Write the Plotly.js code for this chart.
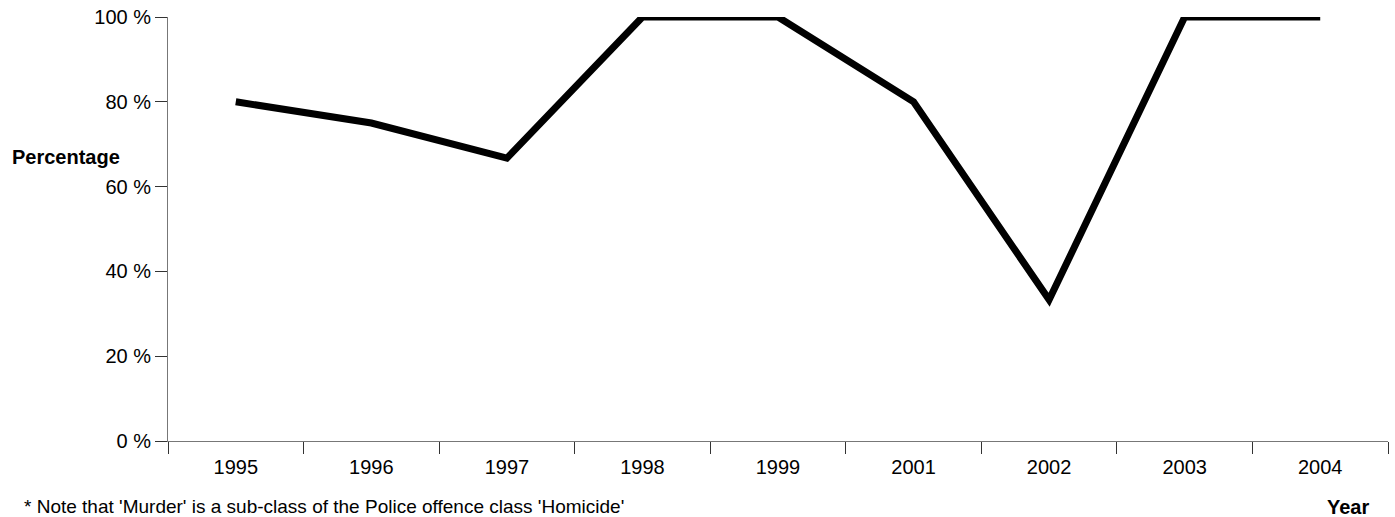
<!DOCTYPE html>
<html>
<head>
<meta charset="utf-8">
<script src="https://cdn.plot.ly/plotly-3.0.1.min.js"></script>
<style>html,body{margin:0;padding:0;background:#fff;}#chart{width:1395px;height:517px;}</style>
</head>
<body>
<div id="chart"></div>
<script>
const years = ['1995','1996','1997','1998','1999','2001','2002','2003','2004'];
const percentages = [80, 75, 66.7, 100, 100, 80, 33.3, 100, 100];
const yTicks = [0, 20, 40, 60, 80, 100];

const font = {family: 'Liberation Sans, Arial, sans-serif', size: 20, color: '#000'};
const noteFont = {family: 'Liberation Sans, Arial, sans-serif', size: 19, color: '#000'};

Plotly.newPlot('chart', [{
  x: years,
  y: percentages,
  type: 'scatter',
  mode: 'lines',
  line: {color: '#000', width: 7, shape: 'linear'},
  cliponaxis: false,
  hoverinfo: 'skip'
}], {
  width: 1395, height: 517,
  margin: {l: 168, r: 7, t: 17, b: 76},
  paper_bgcolor: '#fff', plot_bgcolor: '#fff',
  font: font,
  showlegend: false,
  xaxis: {
    type: 'category',
    range: [-0.5, years.length - 0.5],
    tickson: 'boundaries',
    ticks: 'outside', ticklen: 12, tickcolor: '#333', tickwidth: 1,
    ticklabelstandoff: 8,
    showline: true, linecolor: '#777', linewidth: 1,
    showgrid: false, zeroline: false,
    tickfont: font, fixedrange: true
  },
  yaxis: {
    range: [0, 100],
    tickvals: yTicks,
    ticktext: yTicks.map(v => v + ' %'),
    ticks: 'outside', ticklen: 12, tickcolor: '#333', tickwidth: 1,
    showline: true, linecolor: '#777', linewidth: 1,
    showgrid: false, zeroline: false,
    tickfont: font, fixedrange: true
  },
  annotations: [
    {text: '<b>Percentage</b>', xref: 'paper', yref: 'paper', x: 0, y: 0.67,
     xanchor: 'right', yanchor: 'middle', xshift: -46, showarrow: false, font: font},
    {text: '<b>Year</b>', xref: 'paper', yref: 'paper', x: 0.967, y: -0.124,
     xanchor: 'center', yanchor: 'top', showarrow: false, font: font},
    {text: "* Note that 'Murder' is a sub-class of the Police offence class 'Homicide'",
     xref: 'paper', yref: 'paper', x: 0, y: -0.124, xanchor: 'left', yanchor: 'top',
     xshift: -146, showarrow: false, font: noteFont}
  ]
}, {displayModeBar: false, staticPlot: true});
</script>
</body>
</html>
